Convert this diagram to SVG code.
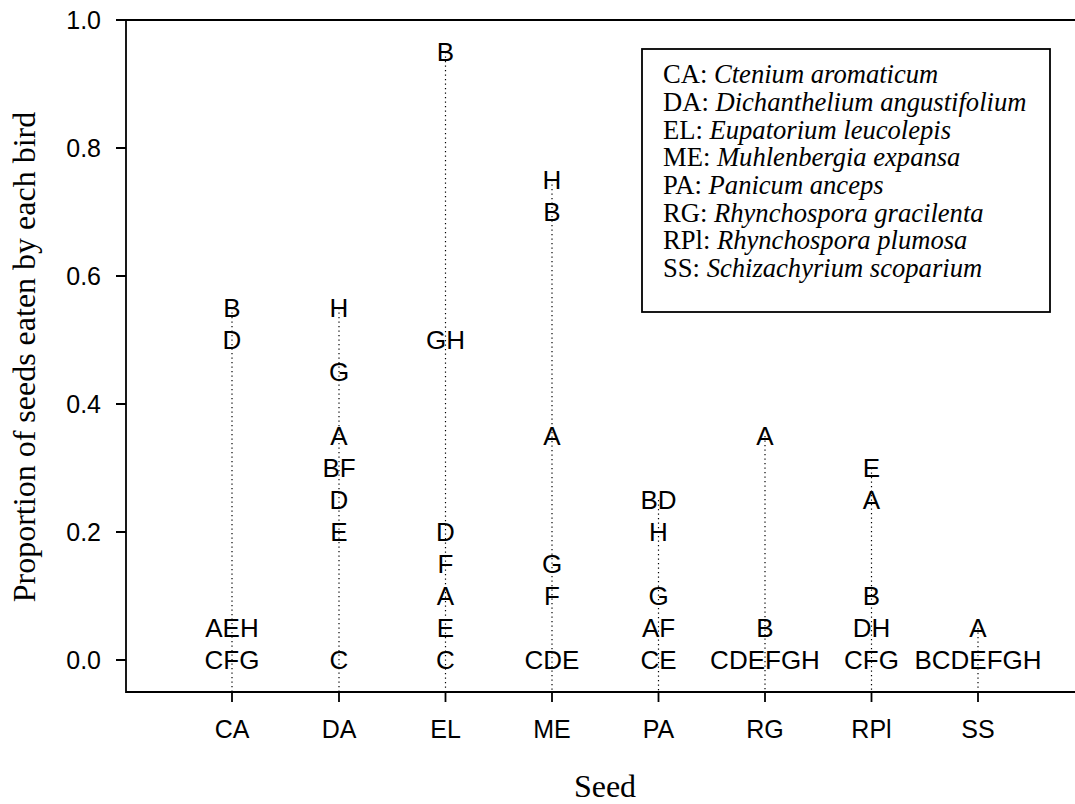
<svg xmlns="http://www.w3.org/2000/svg" width="1075" height="804" viewBox="0 0 1075 804">
<style>
.ax{stroke:#000;stroke-width:1.8;fill:none}
.dot{stroke:#000;stroke-width:1.2;stroke-dasharray:1.2 3.3;fill:none}
.tl{font-family:"Liberation Sans",Arial,sans-serif;font-size:25px;fill:#000}
.pt{font-family:"Liberation Sans",Arial,sans-serif;font-size:26px;fill:#000;text-anchor:middle}
.lg{font-family:"Liberation Serif","Times New Roman",serif;font-size:26.6px;fill:#000}
.tt{font-family:"Liberation Serif","Times New Roman",serif;font-size:32px;fill:#000;text-anchor:middle}
</style>
<rect width="1075" height="804" fill="#fff"/>
<g id="connectors">
<line class="dot" x1="232" y1="308" x2="232" y2="692"/>
<line class="dot" x1="339" y1="308" x2="339" y2="692"/>
<line class="dot" x1="445.5" y1="52" x2="445.5" y2="692"/>
<line class="dot" x1="552" y1="180" x2="552" y2="692"/>
<line class="dot" x1="658.5" y1="500" x2="658.5" y2="692"/>
<line class="dot" x1="765" y1="436" x2="765" y2="692"/>
<line class="dot" x1="871.5" y1="468" x2="871.5" y2="692"/>
<line class="dot" x1="978" y1="628" x2="978" y2="692"/>
</g>
<g id="axes">
<path class="ax" d="M116 20H1075M126 20V692H1075"/>
<path class="ax" d="M116 148H126M116 276H126M116 404H126M116 532H126M116 660H126"/>
<path class="ax" d="M232 692V702M339 692V702M445.5 692V702M552 692V702M658.5 692V702M765 692V702M871.5 692V702M978 692V702"/>
<g class="tl" text-anchor="end">
<text x="101" y="28.5">1.0</text>
<text x="101" y="156.5">0.8</text>
<text x="101" y="284.5">0.6</text>
<text x="101" y="412.5">0.4</text>
<text x="101" y="540.5">0.2</text>
<text x="101" y="668.5">0.0</text>
</g>
<g class="tl" text-anchor="middle">
<text x="232" y="738">CA</text>
<text x="339" y="738">DA</text>
<text x="445.5" y="738">EL</text>
<text x="552" y="738">ME</text>
<text x="658.5" y="738">PA</text>
<text x="765" y="738">RG</text>
<text x="871.5" y="738">RPl</text>
<text x="978" y="738">SS</text>
</g>
<text class="tt" x="605" y="797">Seed</text>
<text class="tt" transform="translate(35,357) rotate(-90)">Proportion of seeds eaten by each bird</text>
</g>
<g id="col-CA" class="pt">
<text x="232" y="317.3">B</text>
<text x="232" y="349.3">D</text>
<text x="232" y="637.3">AEH</text>
<text x="232" y="669.3">CFG</text>
</g>
<g id="col-DA" class="pt">
<text x="339" y="317.3">H</text>
<text x="339" y="381.3">G</text>
<text x="339" y="445.3">A</text>
<text x="339" y="477.3">BF</text>
<text x="339" y="509.3">D</text>
<text x="339" y="541.3">E</text>
<text x="339" y="669.3">C</text>
</g>
<g id="col-EL" class="pt">
<text x="445.5" y="61.3">B</text>
<text x="445.5" y="349.3">GH</text>
<text x="445.5" y="541.3">D</text>
<text x="445.5" y="573.3">F</text>
<text x="445.5" y="605.3">A</text>
<text x="445.5" y="637.3">E</text>
<text x="445.5" y="669.3">C</text>
</g>
<g id="col-ME" class="pt">
<text x="552" y="189.3">H</text>
<text x="552" y="221.3">B</text>
<text x="552" y="445.3">A</text>
<text x="552" y="573.3">G</text>
<text x="552" y="605.3">F</text>
<text x="552" y="669.3">CDE</text>
</g>
<g id="col-PA" class="pt">
<text x="658.5" y="509.3">BD</text>
<text x="658.5" y="541.3">H</text>
<text x="658.5" y="605.3">G</text>
<text x="658.5" y="637.3">AF</text>
<text x="658.5" y="669.3">CE</text>
</g>
<g id="col-RG" class="pt">
<text x="765" y="445.3">A</text>
<text x="765" y="637.3">B</text>
<text x="765" y="669.3">CDEFGH</text>
</g>
<g id="col-RPl" class="pt">
<text x="871.5" y="477.3">E</text>
<text x="871.5" y="509.3">A</text>
<text x="871.5" y="605.3">B</text>
<text x="871.5" y="637.3">DH</text>
<text x="871.5" y="669.3">CFG</text>
</g>
<g id="col-SS" class="pt">
<text x="978" y="637.3">A</text>
<text x="978" y="669.3">BCDEFGH</text>
</g>
<g id="legend">
<rect x="642" y="49" width="408" height="263" fill="#fff" stroke="#000" stroke-width="1.8"/>
<g class="lg">
<text x="663" y="83.3">CA: <tspan font-style="italic">Ctenium aromaticum</tspan></text>
<text x="663" y="111">DA: <tspan font-style="italic">Dichanthelium angustifolium</tspan></text>
<text x="663" y="138.7">EL: <tspan font-style="italic">Eupatorium leucolepis</tspan></text>
<text x="663" y="166.3">ME: <tspan font-style="italic">Muhlenbergia expansa</tspan></text>
<text x="663" y="194">PA: <tspan font-style="italic">Panicum anceps</tspan></text>
<text x="663" y="221.7">RG: <tspan font-style="italic">Rhynchospora gracilenta</tspan></text>
<text x="663" y="249.3">RPl: <tspan font-style="italic">Rhynchospora plumosa</tspan></text>
<text x="663" y="277">SS: <tspan font-style="italic">Schizachyrium scoparium</tspan></text>
</g>
</g>
</svg>
